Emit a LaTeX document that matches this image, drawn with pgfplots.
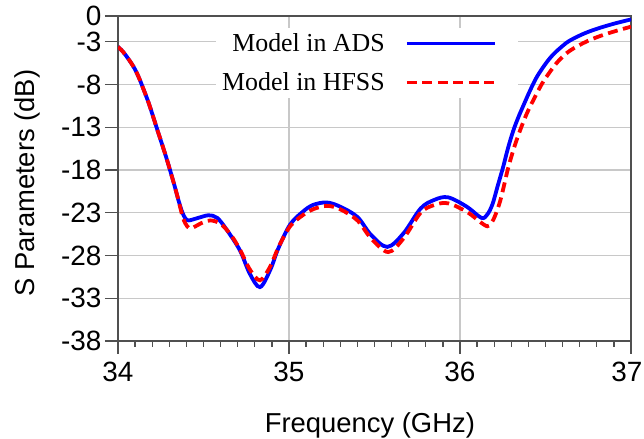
\documentclass[border=0pt]{standalone}
\usepackage{fontspec}
\setmainfont{Liberation Sans}
\newfontfamily\legfont{Liberation Serif}
\usepackage{pgfplots}
\pgfplotsset{compat=1.18}
\definecolor{adsblue}{RGB}{0,0,255}
\definecolor{hfssred}{RGB}{255,0,0}
\definecolor{gridgray}{RGB}{200,200,200}
\definecolor{axgray}{RGB}{80,80,80}
\begin{document}
\begin{tikzpicture}
\path[use as bounding box] (0,0) rectangle (644bp,439bp);
\begin{axis}[
  at={(118bp,98bp)}, anchor=south west,
  scale only axis, width=513bp, height=325bp,
  xmin=34, xmax=37, ymin=-38, ymax=0,
  xtick={34,35,36,37}, xticklabels={34,35,36,{\kern-8bp 37}},
  ytick={-38,-33,-28,-23,-18,-13,-8,-3,0},
  yticklabels={-38,-33,-28,-23,-18,-13,-8,-3,0},
  minor x tick num=9,
  xtick pos=bottom, ytick pos=left,
  tick align=outside,
  major tick length=13bp, minor tick length=6bp,
  every tick/.style={axgray, line width=1.3bp},
  axis line style={axgray, line width=1.5bp},
  grid=major,
  major grid style={gridgray, line width=1.3bp},
  tick label style={font=\fontsize{28}{28}\selectfont},
  xticklabel style={yshift=-5bp},
  xlabel={Frequency (GHz)}, ylabel={S Parameters (dB)},
  label style={font=\fontsize{27.5}{28}\selectfont},
  xlabel style={at={(axis description cs:0.491,-0.283)}, anchor=base},
  ylabel style={at={(axis description cs:-0.162,0.486)}, anchor=base, rotate=0},
  legend style={draw=none, fill=white, at={(rel axis cs:0.191,0.965)}, anchor=north west,
    font=\legfont\fontsize{26}{30}\selectfont, inner sep=4bp, row sep=16bp},
  legend plot pos=right,
  legend cell align=right,
  legend image code/.code={\path[draw=none,fill=none] (0bp,-1bp) rectangle (1bp,1bp);
    \draw[#1, line width=3bp] (20bp,0bp) -- (108bp,0bp);
    \path[draw=none,fill=none] (126bp,-1bp) rectangle (127bp,1bp);},
]
\addplot[adsblue, line width=3.8bp, smooth, tension=0.55] coordinates {
(34.00,-3.6) (34.03,-4.2) (34.06,-5.0) (34.09,-5.9) (34.12,-7.1) (34.148,-8.5)
(34.18,-10.2) (34.206,-11.8) (34.23,-13.3) (34.256,-14.9) (34.28,-16.4)
(34.304,-18.0) (34.33,-19.8) (34.353,-21.5) (34.375,-22.9) (34.395,-23.7) (34.415,-23.9)
(34.47,-23.6) (34.53,-23.3) (34.58,-23.6) (34.636,-25.0) (34.713,-27.4) (34.77,-30.1)
(34.83,-31.7) (34.89,-29.7) (34.937,-27.2) (35.006,-24.4) (35.08,-22.9) (35.14,-22.1)
(35.22,-21.8) (35.30,-22.3) (35.40,-23.5) (35.48,-25.6) (35.575,-27.0) (35.67,-25.4)
(35.77,-22.5) (35.85,-21.5) (35.93,-21.2) (36.04,-22.3) (36.125,-23.6) (36.16,-23.2)
(36.19,-22.0) (36.22,-19.9) (36.253,-17.6) (36.28,-15.5) (36.31,-13.5) (36.34,-11.9)
(36.37,-10.5) (36.41,-8.7) (36.45,-7.1) (36.5,-5.6) (36.545,-4.5) (36.6,-3.5)
(36.64,-2.9) (36.72,-2.1) (36.8,-1.5) (36.9,-0.9) (37.0,-0.4)
};
\addlegendentry{Model in ADS}
\addplot[hfssred, line width=3.8bp, dash pattern=on 10bp off 5.5bp, smooth, tension=0.55] coordinates {
(34.00,-3.6) (34.03,-4.2) (34.06,-5.0) (34.09,-5.9) (34.12,-7.1) (34.148,-8.5)
(34.18,-10.2) (34.206,-11.8) (34.23,-13.3) (34.256,-14.9) (34.28,-16.4)
(34.304,-18.0) (34.33,-19.8) (34.353,-21.5) (34.38,-23.6) (34.405,-24.6) (34.43,-24.8)
(34.49,-24.2) (34.54,-23.9) (34.60,-24.3) (34.66,-25.6) (34.713,-27.3) (34.77,-29.6)
(34.83,-30.9) (34.89,-29.3) (34.937,-27.1) (35.006,-24.6) (35.08,-23.3) (35.14,-22.6)
(35.22,-22.2) (35.30,-22.6) (35.40,-23.9) (35.48,-26.0) (35.58,-27.6) (35.67,-26.0)
(35.77,-23.0) (35.85,-22.1) (35.93,-21.9) (36.04,-22.9) (36.14,-24.4) (36.17,-24.5)
(36.2,-23.6) (36.234,-21.7) (36.26,-19.6) (36.28,-17.9) (36.31,-15.8) (36.34,-14.0)
(36.37,-12.4) (36.40,-11.0) (36.44,-9.4) (36.48,-7.9) (36.52,-6.7) (36.565,-5.5)
(36.62,-4.4) (36.68,-3.6) (36.76,-2.8) (36.84,-2.2) (36.92,-1.7) (37.0,-1.25)
};
\addlegendentry{Model in HFSS}
\end{axis}
\end{tikzpicture}
\end{document}
